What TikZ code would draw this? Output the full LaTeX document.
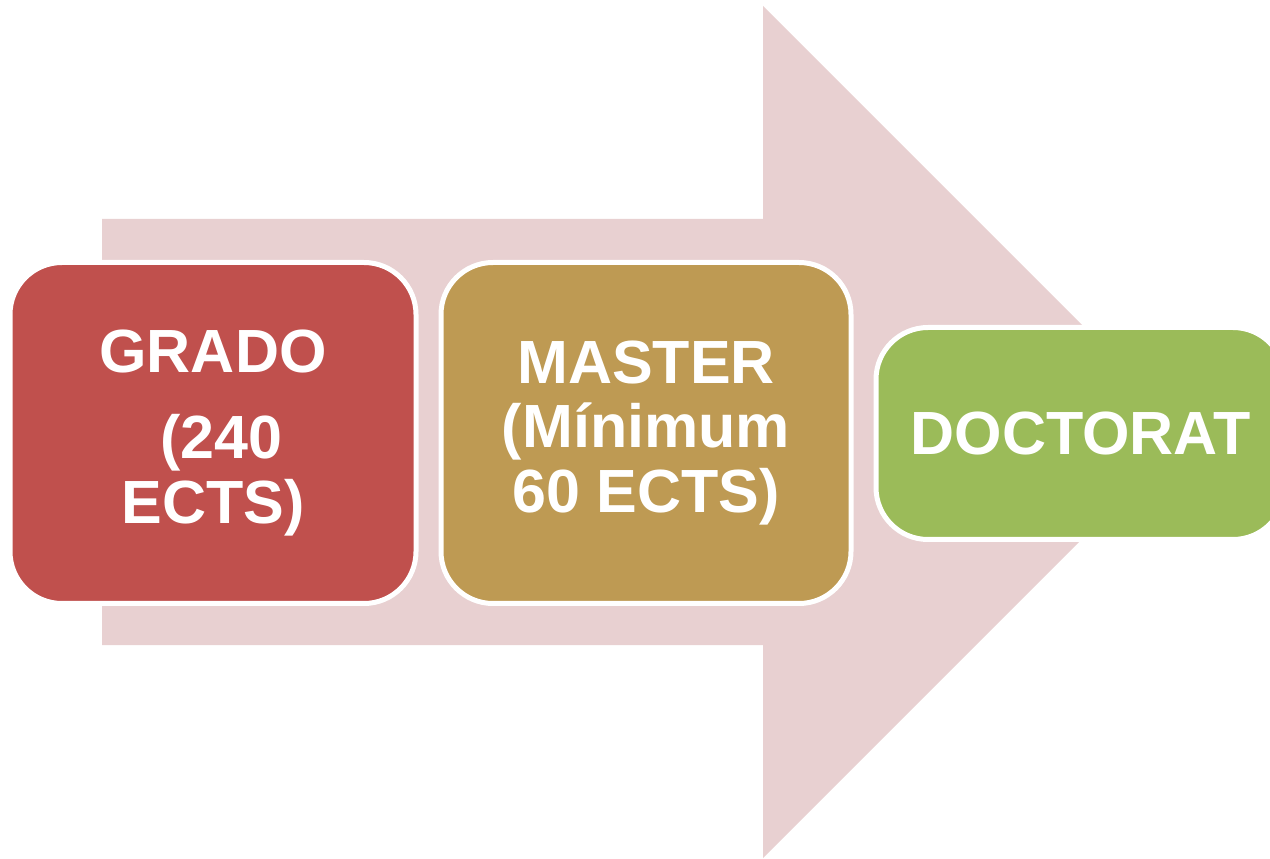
\documentclass[tikz,border=0pt]{standalone}
\usepackage{fontspec}
\setmainfont{Liberation Sans}
\usetikzlibrary{positioning}
\definecolor{gradored}{HTML}{C0504D}
\definecolor{mastertan}{HTML}{BE9A53}
\definecolor{doctgreen}{HTML}{9BBB59}
\definecolor{arrowpink}{HTML}{E8D0D1}
\tikzset{
  stage/.style={draw=white, line width=2.5pt, rounded corners=26pt,
    text=white, align=center, inner sep=0pt,
    font=\bfseries\fontsize{30.5}{32.3}\selectfont},
}

\begin{document}
\begin{tikzpicture}[x=0.5pt, y=0.5pt]
			%%%%% START %%%%%
			\useasboundingbox (0, 0) rectangle (1270, 858);
			
			% big arrow behind
			\fill[arrowpink] (102, 213) -- (763, 213) -- (763, 0) -- (1189, 426)
				-- (763, 852) -- (763, 639) -- (102, 639) -- cycle;
			
			\node[stage, fill=gradored, minimum width=203pt, minimum height=170.5pt]
				(grado) at (213, 425) {GRADO\\[11pt]\hspace*{0.28em}(240\\ECTS)};
			
			\node[stage, fill=mastertan, minimum width=205pt, minimum height=170.5pt]
				(master) at (646, 425) {MASTER\\(Mínimum\\60 ECTS)};
			
			\node[stage, fill=doctgreen, minimum width=204.5pt, minimum height=106pt]
				(doctorat) at (1080.5, 424.5) {DOCTORAT};
			
			%%%%% END %%%%%
\end{tikzpicture}
\end{document}
